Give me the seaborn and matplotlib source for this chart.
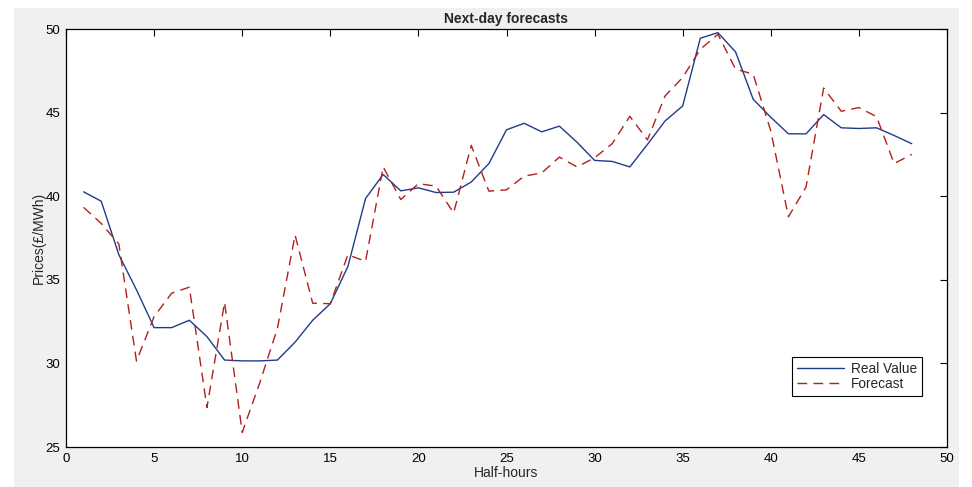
import matplotlib
matplotlib.use("Agg")
import matplotlib.pyplot as plt
from matplotlib.patches import Rectangle
import seaborn as sns
import pandas as pd

# half-hour index 1..48
half_hours = list(range(1, 49))

real_value = [40.26, 39.7, 36.5, 34.4, 32.14, 32.14, 32.58, 31.6, 30.2, 30.15,
              30.15, 30.2, 31.27, 32.58, 33.57, 35.8, 39.86, 41.3, 40.32, 40.5,
              40.22, 40.24, 40.85, 41.95, 43.97, 44.36, 43.85, 44.19, 43.23, 42.14,
              42.08, 41.75, 43.1, 44.5, 45.4, 49.45, 49.78, 48.63, 45.8, 44.72,
              43.73, 43.73, 44.88, 44.09, 44.05, 44.09, 43.63, 43.14]

forecast = [39.33, 38.37, 37.14, 30.14, 32.8, 34.2, 34.56, 27.36, 33.65, 25.87,
            28.85, 32.1, 37.68, 33.6, 33.57, 36.5, 36.1, 41.75, 39.8, 40.75,
            40.6, 39.0, 43.04, 40.3, 40.38, 41.2, 41.39, 42.34, 41.75, 42.3,
            43.14, 44.78, 43.37, 46.0, 47.1, 48.79, 49.68, 47.6, 47.3, 43.9,
            38.77, 40.55, 46.47, 45.08, 45.3, 44.76, 41.95, 42.5]

df = pd.DataFrame({
    "Half-hours": half_hours * 2,
    "Price": real_value + forecast,
    "Series": ["Real Value"] * len(half_hours) + ["Forecast"] * len(half_hours),
})

sns.set_style("white")
plt.rcParams["font.family"] = ["Liberation Sans", "DejaVu Sans"]

fig = plt.figure(figsize=(9.72, 4.87), dpi=100, facecolor="white")
# grey window background (white strip left and top, as in the screenshot)
fig.patches.append(Rectangle((14 / 972, 0), 945 / 972, 479 / 487,
                             transform=fig.transFigure, facecolor="#f0f0f0",
                             edgecolor="none", zorder=-10))

ax = fig.add_axes([66 / 972, 40 / 487, 881 / 972, 418 / 487])
ax.set_facecolor("white")

sns.lineplot(data=df, x="Half-hours", y="Price", hue="Series", style="Series",
             palette={"Real Value": "#1f3c88", "Forecast": "#b0201c"},
             dashes={"Real Value": "", "Forecast": (7, 4.5)},
             linewidth=1.0, ax=ax)

ax.set_xlim(0, 50)
ax.set_ylim(25, 50)
ax.set_xticks(range(0, 51, 5))
ax.set_yticks(range(25, 51, 5))
ax.tick_params(direction="in", top=True, right=True, length=5, width=0.8,
               labelsize=9.5, colors="black", pad=4)
for s in ax.spines.values():
    s.set_color("black")
    s.set_linewidth(0.9)

ax.set_title("Next-day forecasts", fontsize=10, fontweight="bold", pad=4)
ax.set_xlabel("Half-hours", fontsize=10, labelpad=1)
ax.set_ylabel("Prices(£/MWh)", fontsize=10, labelpad=0)

leg = ax.legend(loc="lower right", bbox_to_anchor=(0.9716, 0.122), fontsize=9.8,
                frameon=True, fancybox=False, edgecolor="black", framealpha=1,
                borderaxespad=0, handlelength=3.5, borderpad=0.35,
                labelspacing=0.1, handletextpad=0.5)
leg.get_frame().set_linewidth(0.8)

fig.savefig("out.png", dpi=100, facecolor=fig.get_facecolor())
